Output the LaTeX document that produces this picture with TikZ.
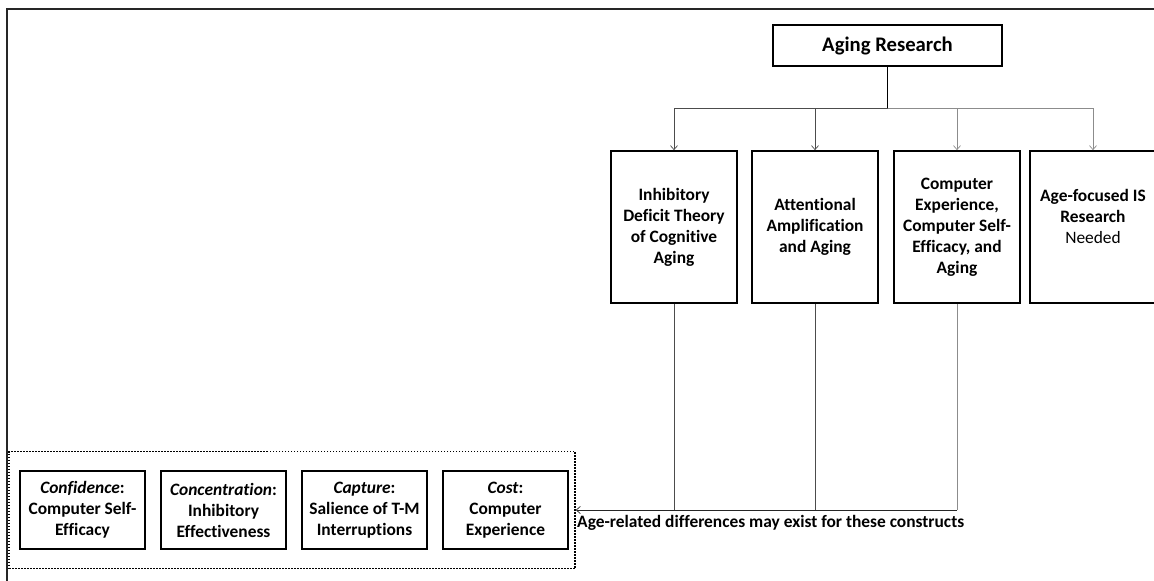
\documentclass[tikz,border=0pt]{standalone}
\usepackage{fontspec}
\setmainfont{Carlito}[Ligatures=NoCommon]
\usetikzlibrary{arrows.meta}
\begin{document}
\begin{tikzpicture}[x=1pt, y=-1pt,
  box/.style={draw=black, line width=1.7pt, align=center, inner sep=0pt,
    font=\fontsize{17.4}{21}\selectfont\bfseries},
  theory/.style={box, minimum width=126pt, minimum height=152pt},
  construct/.style={box, minimum width=125pt, minimum height=78pt},
  group/.style={draw=black, line width=1.5pt, dash pattern=on 1.5pt off 1.5pt,
    inner sep=0pt, minimum width=566pt, minimum height=117pt},
  link/.style={draw=black!70, line width=0.8pt},
  linklight/.style={draw=black!45, line width=0.8pt},
  tip/.style={-{Straight Barb[length=4pt,width=7pt,line width=0.7pt]}},
  frame/.style={draw=black!85, line width=2pt},
]
\useasboundingbox (0,0) rectangle (1154,581);
\clip (0,0) rectangle (1154,581);

% outer frame (top and left edges)
\coordinate (frameR) at (1170,9);
\coordinate (frameC) at (7,9);
\coordinate (frameB) at (7,600);
\draw[frame] (frameR) -- (frameC) -- (frameB);

% root
\node[box, minimum width=229pt, minimum height=41pt,
  font=\fontsize{20.7}{24}\selectfont\bfseries] (aging) at (887.5,45.5) {Aging Research};

% research streams
\node[theory] (b1) at (674,227) {Inhibitory\\Deficit Theory\\of Cognitive\\Aging};
\node[theory] (b2) at (815,227) {Attentional\\Amplification\\and Aging};
\node[theory] (b3) at (957,227) {Computer\\Experience,\\Computer Self-\\Efficacy, and\\Aging};
\node[theory] (b4) at (1093,227) {Age-focused IS\\Research\\{\mdseries Needed}\\\mbox{}};

% constructs
\node[construct] (c1) at (82.5,510) {\textit{Confidence}:\\Computer Self-\\Efficacy};
\node[construct] (c2) at (223.5,510) {\textit{Concentration}:\\Inhibitory\\Effectiveness};
\node[construct] (c3) at (364.5,510) {\textit{Capture}:\\Salience of T-M\\Interruptions};
\node[construct] (c4) at (505.5,510) {\textit{Cost}:\\Computer\\Experience};
\node[group] (grp) at (292,510) {};

% tree connectors
\coordinate (split) at (887.5,108);
\draw[black, line width=1pt] (aging.south) -- (split);
\draw[link, tip] (split) -| (b1.north);
\draw[link, tip] (split) -| (b2.north);
\draw[linklight, tip] (split) -| (b3.north);
\draw[linklight, tip] (split) -| (b4.north);

% links down to the constructs
\draw[link] (b1.south) -- (b1.south |- grp.east);
\draw[link] (b2.south) -- (b2.south |- grp.east);
\draw[linklight] (b3.south) -- (b3.south |- grp.east);
\draw[link, draw=black!85, tip] (b3.south |- grp.east) -- (grp.east);

\node[anchor=base west, inner sep=0pt, font=\fontsize{17.4}{21}\selectfont\bfseries]
  (note) at (577,527) {Age-related differences may exist for these constructs};
\end{tikzpicture}
\end{document}
